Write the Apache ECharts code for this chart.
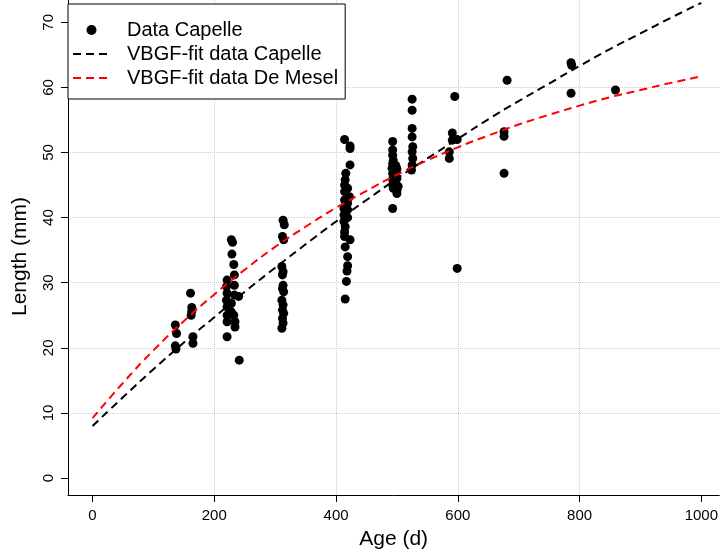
<!DOCTYPE html>
<html><head><meta charset="utf-8">
<script src="https://cdn.jsdelivr.net/npm/echarts@6/dist/echarts.min.js"></script>
<style>html,body{margin:0;padding:0;background:#fff}#c{width:721px;height:556px}</style>
</head><body><div id="c"></div>
<script>
// Observed data (Capelle): age in days, length in mm
const ageCapelle = [
  136,138,136,137,
  161,163,163,162,165,165,
  228,230,229,232,233,221,233,220,221,233,240,220,228,221,228,221,232,221,234,234,221,241,
  313,315,312,314,311,313,312,313,312,314,311,313,312,314,312,313,311,
  414,423,423,423,416,415,414,419,414,422,414,419,413,419,413,419,413,415,414,414,423,415,419,419,418,417,415,
  493,493,493,494,493,492,493,494,493,493,494,500,500,493,500,500,498,502,499,
  525,525,525,525,526,525,526,525,524,
  595,591,591,599,586,586,599,
  681,676,676,676,
  786,787,786,
  859
];
const lengthCapelle = [
  23.5,22.2,20.3,19.8,
  28.4,26.2,25.6,25.0,21.7,20.7,
  36.6,36.2,34.4,32.8,31.2,30.4,29.6,29.4,28.4,28.1,27.9,27.3,26.8,26.3,25.5,25.0,25.0,24.0,24.0,23.2,21.7,18.1,
  39.6,38.9,37.1,36.6,32.5,31.7,31.2,29.6,29.1,28.6,27.3,26.6,25.8,25.3,24.5,23.8,23.0,
  52.0,51.0,50.6,48.1,46.8,45.8,45.0,44.5,44.0,43.2,42.7,42.2,41.4,41.2,40.4,40.0,39.4,38.6,37.8,37.1,36.6,35.5,34.0,32.6,31.8,30.2,27.5,
  51.7,50.4,49.6,48.8,48.3,47.6,46.8,46.3,45.8,45.0,44.5,44.2,43.7,41.4,47.5,46.0,48.0,44.8,47.0,
  58.2,56.5,53.7,52.4,50.9,50.1,49.1,48.1,47.3,
  58.6,53.0,51.9,52.0,50.1,49.1,32.2,
  61.1,53.2,52.5,46.8,
  63.8,63.4,59.1,
  59.6
];
// Fitted curves
const fitAge = [0,50,100,150,200,250,300,350,400,450,500,550,600,650,700,750,800,850,900,950,1000];
const fitCapelle = [8.0,12.4,16.7,20.8,24.7,28.6,32.3,35.9,39.4,42.7,46.0,49.1,52.1,55.1,57.9,60.6,63.3,65.9,68.3,70.7,73.0];
const fitMesel = [9.2,14.6,19.6,24.1,28.2,32.0,35.5,38.6,41.5,44.1,46.6,48.8,50.8,52.6,54.3,55.8,57.2,58.5,59.6,60.7,61.7];
const xTicks = [0,200,400,600,800,1000];
const yTicks = [0,10,20,30,40,50,60,70];
const seriesNames = ['Data Capelle','VBGF-fit data Capelle','VBGF-fit data De Mesel'];

const FONT = 'Liberation Sans, Arial, Helvetica, sans-serif';
const chart = echarts.init(document.getElementById('c'), null, {renderer:'canvas'});
const zip = (a,b) => a.map((v,i) => [v, b[i]]);

chart.setOption({
  animation: false,
  backgroundColor: '#ffffff',
  textStyle: {fontFamily: FONT, color: '#000'},
  grid: {left: 68, right: 0, top: 0, bottom: 61, containLabel: false},
  legend: {
    data: [
      {name: seriesNames[0], icon: 'circle'},
      {name: seriesNames[1], itemStyle: {opacity: 0}},
      {name: seriesNames[2], itemStyle: {opacity: 0}}
    ],
    orient: 'vertical',
    left: 68, top: 4,
    padding: [16, 7, 11, 4],
    itemWidth: 37, itemHeight: 10, itemGap: 4,
    borderColor: '#000', borderWidth: 1, backgroundColor: '#fff',
    textStyle: {fontFamily: FONT, fontSize: 20, color: '#000', padding: [0,0,0,12]},
    z: 10
  },
  xAxis: {
    type: 'value', min: -40.3, max: 1029.5, splitNumber: 5,
    axisLine: {onZero: false, lineStyle: {color: '#000', width: 1}},
    axisTick: {show: true, length: 7, customValues: xTicks, lineStyle: {color: '#000'}},
    axisLabel: {customValues: xTicks, fontSize: 15, margin: 13, color: '#000', fontFamily: FONT,
      formatter: v => String(v)},
    splitLine: {show: true, showMinLine: false, showMaxLine: false, lineStyle: {type: 'dotted', color: '#cccccc', width: 1}},
    name: 'Age (d)', nameLocation: 'middle', nameGap: 34,
    nameTextStyle: {fontSize: 21, color: '#000', fontFamily: FONT}
  },
  yAxis: {
    type: 'value', min: -2.61, max: 73.43, splitNumber: 8,
    axisLine: {onZero: false, lineStyle: {color: '#000', width: 1}},
    axisTick: {show: true, length: 7, customValues: yTicks, lineStyle: {color: '#000'}},
    axisLabel: {customValues: yTicks, rotate: 90, fontSize: 15, margin: 12, color: '#000', fontFamily: FONT,
      formatter: v => String(v)},
    splitLine: {show: true, showMinLine: false, showMaxLine: false, lineStyle: {type: 'dotted', color: '#cccccc', width: 1}},
    name: 'Length (mm)', nameLocation: 'middle', nameGap: 37,
    nameTextStyle: {fontSize: 21, color: '#000', fontFamily: FONT, padding: [0, 18, 0, 0]}
  },
  series: [
    {
      name: seriesNames[0], type: 'scatter', symbol: 'circle', symbolSize: 9,
      itemStyle: {color: '#000', opacity: 1}, data: zip(ageCapelle, lengthCapelle), z: 2
    },
    {
      name: seriesNames[1], type: 'line', symbol: 'none', smooth: true,
      lineStyle: {color: '#000', width: 2, type: [8, 5]}, itemStyle: {color: '#000'},
      data: zip(fitAge, fitCapelle), z: 3
    },
    {
      name: seriesNames[2], type: 'line', symbol: 'none', smooth: true,
      lineStyle: {color: '#ff0000', width: 2, type: [8, 5]}, itemStyle: {color: '#ff0000'},
      data: zip(fitAge, fitMesel), z: 4
    }
  ]
});
</script></body></html>
